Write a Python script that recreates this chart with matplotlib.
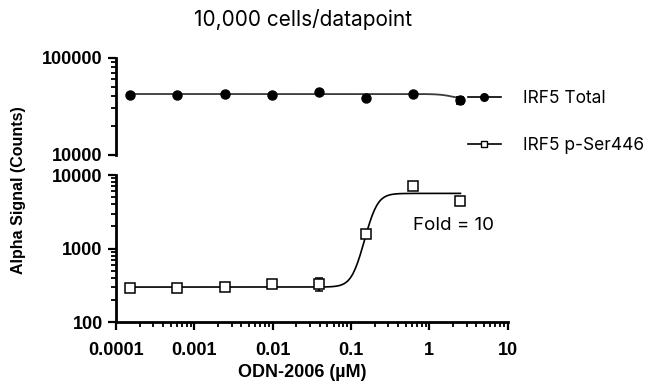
import numpy as np
import matplotlib.pyplot as plt
import matplotlib.ticker as mticker
from matplotlib.lines import Line2D

# ODN-2006 concentration (uM), 4-fold serial dilution
conc_um = [0.000153, 0.00061, 0.00244, 0.00977, 0.0391, 0.156, 0.625, 2.5]

# IRF5 Total
total_counts = [41600, 41600, 42500, 41800, 44300, 38500, 42500, 36300]
total_err = [0, 0, 0, 0, 0, 0, 0, 3000]

# IRF5 p-Ser446
pser_counts = [288, 288, 299, 326, 332, 1575, 7085, 4470]
pser_err = [0, 0, 0, 0, 70, 0, 0, 0]

# 4PL fit parameters (value at low conc, value at high conc, ec50, hill)
total_fit = (42300, 37000, 2.0, 5.0)
pser_fit = (300, 5640, 0.19, 6.0)

x_ticks = [0.0001, 0.001, 0.01, 0.1, 1, 10]
x_ticklabels = ["0.0001", "0.001", "0.01", "0.1", "1", "10"]

label_font = "Liberation Sans"
text_font = "Inter"


def four_pl(x, params):
    low, high, ec50, hill = params
    r = (x / ec50) ** hill
    return low + (high - low) * r / (1 + r)


def style_axis(ax):
    for side in ["top", "right"]:
        ax.spines[side].set_visible(False)
    for side in ["left", "bottom"]:
        ax.spines[side].set_linewidth(2)
    ax.tick_params(which="major", length=6, width=1.6, direction="out")
    ax.tick_params(which="minor", length=3.5, width=1.3, direction="out")
    for lab in ax.get_yticklabels() + ax.get_xticklabels():
        lab.set_fontfamily(label_font)
        lab.set_fontweight("bold")
        lab.set_fontsize(13)


fig = plt.figure(figsize=(6.55, 3.9), dpi=100)
ax_top = fig.add_axes([0.177, 0.603, 0.598, 0.249])
ax_bot = fig.add_axes([0.177, 0.174, 0.598, 0.377])

x_fit = np.logspace(np.log10(conc_um[0]), np.log10(conc_um[-1]), 300)

# top panel
ax_top.plot(x_fit, four_pl(x_fit, total_fit), color="#3a3a3a", lw=1.3, zorder=2)
ax_top.errorbar(conc_um, total_counts, yerr=total_err, fmt="o", color="black",
                ms=6.5, capsize=3, elinewidth=1.2, capthick=1.2, zorder=3)
ax_top.set_xscale("log")
ax_top.set_yscale("log")
ax_top.set_xlim(0.0001, 10)
ax_top.set_ylim(10000, 100000)
ax_top.set_yticks([10000, 100000])
ax_top.set_yticklabels(["10000", "100000"])
ax_top.yaxis.set_minor_locator(mticker.LogLocator(base=10, subs=np.arange(2, 10)))
ax_top.yaxis.set_minor_formatter(mticker.NullFormatter())
ax_top.spines["bottom"].set_visible(False)
ax_top.set_xticks([])
ax_top.xaxis.set_minor_locator(mticker.NullLocator())
style_axis(ax_top)

# bottom panel
ax_bot.plot(x_fit, four_pl(x_fit, pser_fit), color="black", lw=1.2, zorder=2)
ax_bot.errorbar(conc_um, pser_counts, yerr=pser_err, fmt="s", color="black",
                mfc="white", mec="black", mew=1.1, ms=6.5, capsize=3,
                elinewidth=1.2, capthick=1.2, zorder=3)
ax_bot.set_xscale("log")
ax_bot.set_yscale("log")
ax_bot.set_xlim(0.0001, 10)
ax_bot.set_ylim(100, 10000)
ax_bot.set_yticks([100, 1000, 10000])
ax_bot.set_yticklabels(["100", "1000", "10000"])
ax_bot.yaxis.set_minor_locator(mticker.LogLocator(base=10, subs=np.arange(2, 10)))
ax_bot.yaxis.set_minor_formatter(mticker.NullFormatter())
ax_bot.set_xticks(x_ticks)
ax_bot.set_xticklabels(x_ticklabels)
ax_bot.xaxis.set_minor_locator(mticker.LogLocator(base=10, subs=np.arange(2, 10)))
ax_bot.xaxis.set_minor_formatter(mticker.NullFormatter())
ax_bot.tick_params(axis="x", which="major", pad=8)
style_axis(ax_bot)

fig.text(0.462, 0.949, "10,000 cells/datapoint", ha="center", va="center",
         fontsize=15, fontfamily=text_font)
fig.text(0.461, 0.044, "ODN-2006 (\u00b5M)", ha="center", va="center",
         fontsize=13, fontweight="bold", fontfamily=label_font)
fig.text(0.028, 0.513, "Alpha Signal (Counts)", ha="center", va="center",
         rotation=90, fontsize=11.5, fontweight="bold", fontfamily=label_font)
fig.text(0.631, 0.421, "Fold = 10", ha="left", va="center",
         fontsize=13.5, fontfamily=text_font)

handles = [
    Line2D([], [], color="black", lw=1.2, marker="o", ms=5.5),
    Line2D([], [], color="black", lw=1.2, marker="s", ms=5, mfc="white", mew=1.0),
]
leg = fig.legend(handles, ["IRF5 Total", "IRF5 p-Ser446"], loc="upper left",
                 bbox_to_anchor=(0.69, 0.81), frameon=False, handlelength=1.9,
                 handletextpad=1.3, labelspacing=1.75,
                 prop={"family": text_font, "size": 12.5})

fig.savefig("out.png", dpi=100)
